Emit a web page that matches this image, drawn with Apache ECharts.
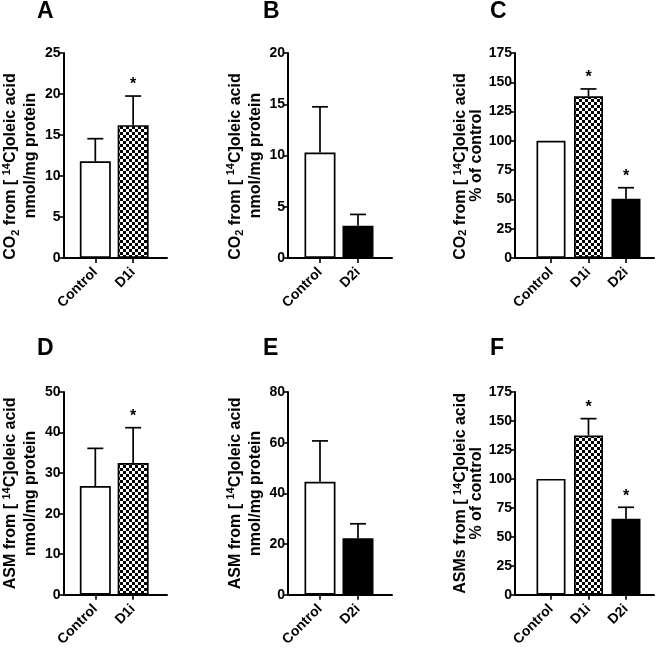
<!DOCTYPE html>
<html><head><meta charset="utf-8">
<script src="https://cdn.jsdelivr.net/npm/echarts@6/dist/echarts.min.js"></script>
<style>html,body{margin:0;padding:0;background:#fff}#c{width:658px;height:649px}</style>
</head><body><div id="c"></div>
<script>
// ---- data ----
const catsA = ['Control', 'D1i'];
const meanA = [11.8, 16.2];
const errA = [2.75, 3.55];
const starA = [0, 1];

const catsB = ['Control', 'D2i'];
const meanB = [10.3, 3.15];
const errB = [4.45, 1.1];
const starB = [0, 0];

const catsC = ['Control', 'D1i', 'D2i'];
const meanC = [100, 138, 50.5];
const errC = [0, 6.3, 9.5];
const starC = [0, 1, 1];

const catsD = ['Control', 'D1i'];
const meanD = [26.8, 32.5];
const errD = [9.3, 8.7];
const starD = [0, 1];

const catsE = ['Control', 'D2i'];
const meanE = [44.6, 22.3];
const errE = [16.1, 5.7];
const starE = [0, 0];

const catsF = ['Control', 'D1i', 'D2i'];
const meanF = [100, 137.5, 65.5];
const errF = [0, 14.5, 10];
const starF = [0, 1, 1];

const yMaxes = [25, 20, 175, 50, 80, 175];
const yIntervals = [5, 5, 25, 10, 20, 25];
const panelLetters = ['A', 'B', 'C', 'D', 'E', 'F'];
const yTitles = [
  '{b|CO}{sub|2}{b| from [ }{sup|14}{b|C]oleic acid}{sp|}\n{b|nmol/mg protein}',
  '{b|CO}{sub|2}{b| from [ }{sup|14}{b|C]oleic acid}{sp|}\n{b|nmol/mg protein}',
  '{b|CO}{sub|2}{b| from [ }{sup|14}{b|C]oleic acid}{sp|}\n{b|% of control}',
  '{b|ASM from [ }{sup|14}{b|C]oleic acid}\n{b|nmol/mg protein}',
  '{b|ASM from [ }{sup|14}{b|C]oleic acid}\n{b|nmol/mg protein}',
  '{b|ASMs from [ }{sup|14}{b|C]oleic acid}\n{b|% of control}'
];

const panels = [
  [catsA, meanA, errA, starA],
  [catsB, meanB, errB, starB],
  [catsC, meanC, errC, starC],
  [catsD, meanD, errD, starD],
  [catsE, meanE, errE, starE],
  [catsF, meanF, errF, starF]
];

// ---- layout (positions / sizes) ----
const layout = [
  {left: 63, top: 53, width: 104, height: 205, xmin: -0.842, xmax: 1.895, bw: 31, gap: 19, lh: 20, lx: 37, ly: 0},
  {left: 288, top: 53, width: 104, height: 205, xmin: -0.842, xmax: 1.895, bw: 31, gap: 19, lh: 20, lx: 263, ly: 0},
  {left: 515, top: 53, width: 139, height: 205, xmin: -0.96, xmax: 2.747, bw: 29, gap: 25, lh: 16, lx: 490, ly: 0},
  {left: 63, top: 392, width: 104, height: 206, xmin: -0.842, xmax: 1.895, bw: 31, gap: 19, lh: 20, lx: 37, ly: 337},
  {left: 288, top: 392, width: 104, height: 206, xmin: -0.842, xmax: 1.895, bw: 31, gap: 19, lh: 20, lx: 263, ly: 337},
  {left: 515, top: 392, width: 139, height: 206, xmin: -0.96, xmax: 2.747, bw: 29, gap: 25, lh: 16, lx: 490, ly: 337}
];

const FONT = 'Liberation Sans, Arial, Helvetica, sans-serif';

// checker pattern
const pc = document.createElement('canvas');
pc.width = 6; pc.height = 6;
const pctx = pc.getContext('2d');
pctx.fillStyle = '#fff'; pctx.fillRect(0, 0, 6, 6);
pctx.fillStyle = '#000';
pctx.fillRect(0, 0, 3, 3); pctx.fillRect(3, 3, 3, 3);
const checker = {image: pc, repeat: 'repeat'};

function fillFor(cat) {
  if (cat === 'Control') return '#fff';
  if (cat === 'D1i') return checker;
  return '#000';
}

const grids = [], xAxes = [], yAxes = [], series = [], graphics = [];
panels.forEach((p, i) => {
  const [cats, means, errs, stars] = p;
  const L = layout[i];
  const idx = cats.map((c, k) => k);
  grids.push({left: L.left, top: L.top, width: L.width, height: L.height});
  xAxes.push({
    gridIndex: i, type: 'value', min: L.xmin, max: L.xmax,
    splitLine: {show: false},
    axisLine: {show: true, onZero: false, lineStyle: {color: '#000', width: 2}},
    axisTick: {show: true, customValues: idx, length: 5, lineStyle: {color: '#000', width: 1.6}},
    axisLabel: {
      customValues: idx, rotate: 45, margin: 12, color: '#000',
      fontFamily: FONT, fontWeight: 'bold', fontSize: 14,
      formatter: v => cats[Math.round(v)]
    }
  });
  yAxes.push({
    gridIndex: i, type: 'value', min: 0, max: yMaxes[i], interval: yIntervals[i],
    splitLine: {show: false},
    axisLine: {show: true, onZero: false, lineStyle: {color: '#000', width: 2}},
    axisTick: {show: true, length: 5, lineStyle: {color: '#000', width: 1.6}},
    axisLabel: {color: '#000', fontFamily: FONT, fontWeight: 'bold', fontSize: 14, margin: 3},
    name: yTitles[i], nameLocation: 'middle', nameRotate: 90, nameGap: L.gap,
    nameTextStyle: {
      lineHeight: L.lh,
      rich: {
        b: {fontFamily: FONT, fontWeight: 'bold', fontSize: 16, color: '#000', lineHeight: L.lh},
        sub: {fontFamily: FONT, fontWeight: 'bold', fontSize: 11, color: '#000', lineHeight: 11, verticalAlign: 'bottom'},
        sup: {fontFamily: FONT, fontWeight: 'bold', fontSize: 11, color: '#000', lineHeight: 11, verticalAlign: 'top'},
        sp: {width: 22, lineHeight: L.lh}
      }
    }
  });
  series.push({
    type: 'bar', xAxisIndex: i, yAxisIndex: i, barWidth: L.bw,
    data: means.map((m, k) => ({
      value: [k, m],
      itemStyle: {color: fillFor(cats[k]), borderColor: '#000', borderWidth: 1.7}
    })),
    silent: true, animation: false
  });
  series.push({
    type: 'custom', xAxisIndex: i, yAxisIndex: i, z: 5, animation: false, silent: true,
    data: means.map((m, k) => [k, m, errs[k], stars[k]]),
    renderItem: (params, api) => {
      const x = api.value(0), y = api.value(1), e = api.value(2), s = api.value(3);
      const p0 = api.coord([x, y]);
      const p1 = api.coord([x, y + e]);
      const children = [];
      if (e > 0) {
        children.push({type: 'line', shape: {x1: p0[0], y1: p0[1], x2: p1[0], y2: p1[1]}, style: {stroke: '#000', lineWidth: 1.7}});
        children.push({type: 'line', shape: {x1: p1[0] - 8, y1: p1[1], x2: p1[0] + 8, y2: p1[1]}, style: {stroke: '#000', lineWidth: 1.7}});
      }
      if (s) {
        children.push({type: 'text', x: p1[0], y: p1[1] - 19,
          style: {text: '*', fill: '#000', font: 'bold 16px ' + FONT, align: 'center', verticalAlign: 'top'}});
      }
      return {type: 'group', children};
    }
  });
  graphics.push({type: 'text', left: L.lx, top: L.ly,
    style: {text: panelLetters[i], fill: '#000', font: 'bold 23px ' + FONT}});
});

const chart = echarts.init(document.getElementById('c'), null, {renderer: 'canvas'});
chart.setOption({
  animation: false,
  backgroundColor: '#fff',
  grid: grids, xAxis: xAxes, yAxis: yAxes, series, graphic: graphics
});
</script>
</body></html>
